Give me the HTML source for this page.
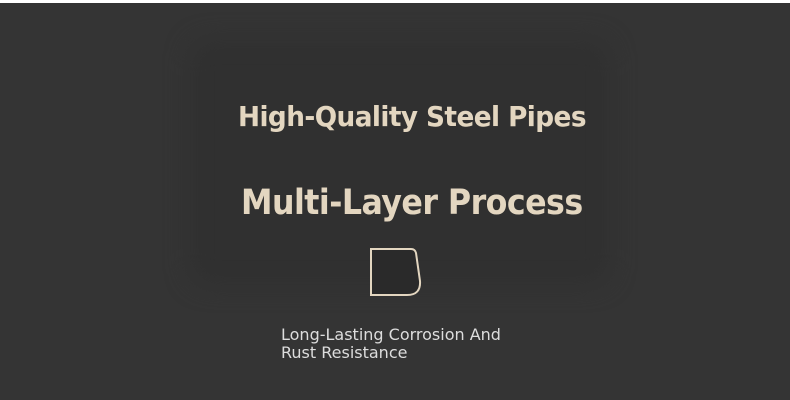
<!DOCTYPE html>
<html><head><style>
html,body{margin:0;padding:0;}
body{width:790px;height:400px;background:#fff;position:relative;overflow:hidden;font-family:"DejaVu Sans","Liberation Sans",sans-serif;}
.bg{position:absolute;left:0;top:3px;width:790px;height:397px;background:#343434;}
.panel{position:absolute;left:190px;top:40px;width:420px;height:245px;background:#303030;border-radius:20px;filter:blur(12px);}
.t{position:absolute;color:#e3d6c0;white-space:nowrap;font-weight:bold;transform-origin:0 0;}
</style></head><body>
<div class="bg"></div>
<div class="panel"></div>
<div class="t" style="left:238px;top:100px;font-size:28px;letter-spacing:-0.6px;transform:scaleX(0.94);">High-Quality Steel Pipes</div>
<div class="t" style="left:241px;top:183px;font-size:35px;letter-spacing:-0.6px;transform:scaleX(0.905);">Multi-Layer Process</div>
<svg style="position:absolute;left:365px;top:245px" width="60" height="55">
<path d="M6 4 L46 4 Q50 4 51 8 L55 36 Q56 50 42 50 L6 50 Z" fill="#2a2a2a" stroke="#e3d6c0" stroke-width="2"/>
</svg>
<div style="position:absolute;left:281px;top:326px;color:#ddd;font-size:16px;line-height:18px;">Long-Lasting Corrosion And<br>Rust Resistance</div>
</body></html>
